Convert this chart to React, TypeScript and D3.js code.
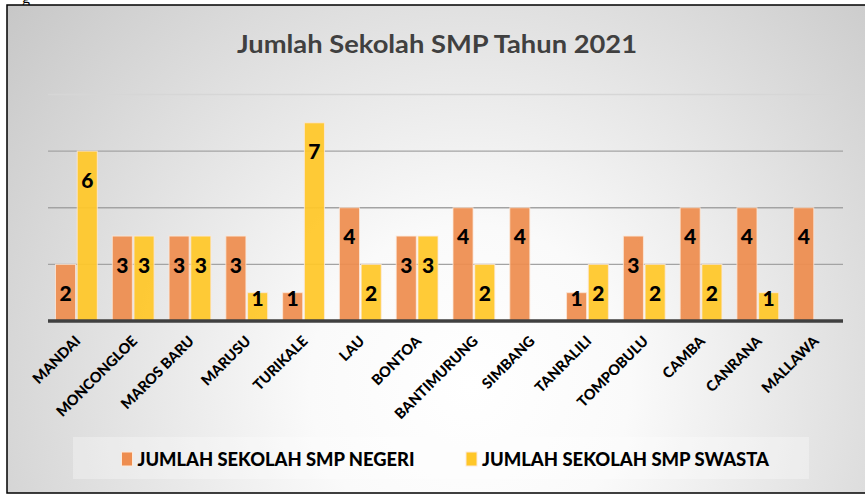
import React from "react";
import * as d3 from "d3";

const categories = [
  "MANDAI", "MONCONGLOE", "MAROS BARU", "MARUSU", "TURIKALE", "LAU", "BONTOA",
  "BANTIMURUNG", "SIMBANG", "TANRALILI", "TOMPOBULU", "CAMBA", "CANRANA", "MALLAWA",
];
const negeri = [2, 3, 3, 3, 1, 4, 3, 4, 4, 1, 3, 4, 4, 4];
const swasta: (number | null)[] = [6, 3, 3, 1, 7, 2, 3, 2, null, 2, 2, 2, 1, null];
const seriesNames = ["JUMLAH SEKOLAH SMP NEGERI", "JUMLAH SEKOLAH SMP SWASTA"];
const seriesColors = ["#ee8d4f", "#ffc728"];
const title = "Jumlah Sekolah SMP Tahun 2021";

const W = 865;
const H = 495;
const FONT = "Lato, 'Open Sans', sans-serif";

const App = () => {
  const x = d3.scaleBand<string>().domain(categories).range([48, 843]);
  const x1 = d3
    .scaleBand<number>()
    .domain([0, 1])
    .range([0, x.bandwidth()])
    .paddingInner(0.077)
    .paddingOuter(0.345);
  const y = d3.scaleLinear().domain([0, 8]).range([321, 94.5]);
  const series = [negeri, swasta];

  return (
    <svg
      width={W}
      height={H}
      style={{ position: "absolute", left: 0, top: 0 }}
      fontFamily={FONT}
    >
      <defs>
        <radialGradient id="bg" gradientUnits="userSpaceOnUse" cx={470} cy={385} r={640}>
          <stop offset="0" stopColor="#ffffff" />
          <stop offset="0.25" stopColor="#fafafa" />
          <stop offset="1" stopColor="#c2c2c2" />
        </radialGradient>
      </defs>
      <text x={22} y={3} fontFamily="serif" fontSize={16}>g</text>
      <rect x={7} y={5} width={W} height={488} fill="url(#bg)" stroke="#000" strokeWidth={1.5} />

      <text x={437} y={53} textAnchor="middle" fontSize={25} fontWeight="bold" fill="#404040" textLength={400} lengthAdjust="spacingAndGlyphs">
        {title}
      </text>

      {y.ticks(4).filter((t) => t > 0).map((t) => (
        <line
          key={t}
          x1={48}
          x2={843}
          y1={y(t)}
          y2={y(t)}
          stroke={t === 8 ? "#d6d6d6" : "#a3a3a3"}
          strokeWidth={1.3}
        />
      ))}

      {series.map((vals, s) => (
        <g key={s}>
          {vals.map((v, i) =>
            v == null ? null : (
              <rect
                key={i}
                x={(x(categories[i]) ?? 0) + (x1(s) ?? 0)}
                y={y(v)}
                width={x1.bandwidth()}
                height={y(0) - y(v)}
                fill={seriesColors[s]}
                fillOpacity={0.93}
                stroke="#fde9d9"
                strokeOpacity={0.8}
                strokeWidth={1}
              />
            )
          )}
        </g>
      ))}

      <line x1={48} x2={843} y1={y(0)} y2={y(0)} stroke="#404040" strokeWidth={3.5} />

      {series.map((vals, s) => (
        <g key={s}>
          {vals.map((v, i) =>
            v == null ? null : (
              <text
                key={i}
                x={(x(categories[i]) ?? 0) + (x1(s) ?? 0) + x1.bandwidth() / 2}
                y={v >= 2 ? y(v) + 28 : y(v) + 5}
                textAnchor="middle"
                dominantBaseline="central"
                fontSize={21}
                fontWeight={900}
                fill="#000"
              >
                {v}
              </text>
            )
          )}
        </g>
      ))}

      {categories.map((c) => (
        <text
          key={c}
          transform={`translate(${(x(c) ?? 0) + x.bandwidth() / 2 + 5},${342}) rotate(-45)`}
          textAnchor="end"
          fontSize={14.5}
          fontWeight={900}
          fill="#000"
        >
          {c}
        </text>
      ))}

      <rect x={73} y={437} width={736} height={42} fill="#ffffff" fillOpacity={0.3} />
      {seriesNames.map((n, s) => {
        const lx = s === 0 ? 121.5 : 466;
        return (
          <g key={n}>
            <rect x={lx} y={452} width={11} height={14} fill={seriesColors[s]} stroke="#fde9d9" strokeWidth={1} />
            <text x={lx + 16} y={466} fontSize={18} fontWeight={900} fill="#000" textLength={s === 0 ? 277 : 287} lengthAdjust="spacingAndGlyphs">
              {n}
            </text>
          </g>
        );
      })}
    </svg>
  );
};

export default App;
